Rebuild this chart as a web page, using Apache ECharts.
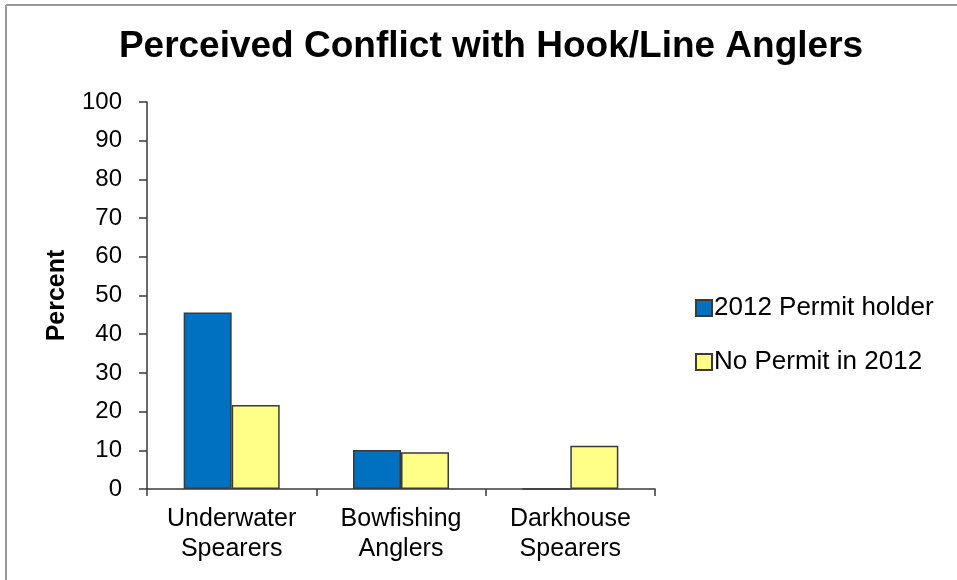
<!DOCTYPE html>
<html><head><meta charset="utf-8">
<script src="https://cdn.jsdelivr.net/npm/echarts@6/dist/echarts.min.js"></script>
<style>html,body{margin:0;padding:0;background:#fff}#c{width:957px;height:580px}</style>
</head><body><div id="c"></div>
<script>
const categories = ['Underwater\nSpearers', 'Bowfishing\nAnglers', 'Darkhouse\nSpearers'];
const permitHolder = [45.6, 10.1, 0];
const noPermit = [21.7, 9.5, 11.2];
const seriesNames = ['2012 Permit holder', 'No Permit in 2012'];
const yTicks = [0, 10, 20, 30, 40, 50, 60, 70, 80, 90, 100];

const chart = echarts.init(document.getElementById('c'));
const border = '#3a3a3a';
chart.setOption({
  animation: false,
  backgroundColor: '#fff',
  title: {
    text: 'Perceived Conflict with Hook/Line Anglers',
    left: 486, top: 23, textAlign: 'center',
    textStyle: { fontFamily: '"Liberation Sans", Arial, sans-serif', fontWeight: 'bold', fontSize: 37, color: '#000' }
  },
  graphic: [
    { type: 'line', shape: { x1: 6, y1: 5, x2: 957, y2: 5 }, style: { stroke: '#999', lineWidth: 2 } },
    { type: 'line', shape: { x1: 6, y1: 5, x2: 6, y2: 580 }, style: { stroke: '#999', lineWidth: 2 } }
  ],
  legend: {
    orient: 'vertical', left: 690, top: 290, itemGap: 28,
    itemWidth: 16, itemHeight: 16, icon: 'rect',
    textStyle: { fontFamily: '"Liberation Sans", Arial, sans-serif', fontSize: 26, color: '#000', padding: [0, 0, 0, -3] },
    data: seriesNames
  },
  grid: { left: 147, right: 302, top: 102, bottom: 91 },
  xAxis: {
    type: 'category', data: categories,
    axisLine: { lineStyle: { color: border, width: 1.5 } },
    axisTick: { show: true, length: 7, alignWithLabel: false, lineStyle: { color: border, width: 1.5 } },
    axisLabel: { margin: 15, fontFamily: '"Liberation Sans", Arial, sans-serif', fontSize: 25, lineHeight: 30, color: '#000', interval: 0 }
  },
  yAxis: {
    type: 'value', min: 0, max: 100, interval: 10,
    name: 'Percent', nameLocation: 'middle', nameGap: 77, nameRotate: 90,
    nameTextStyle: { fontFamily: '"Liberation Sans", Arial, sans-serif', fontWeight: 'bold', fontSize: 25, color: '#000' },
    splitLine: { show: false },
    axisLine: { show: true, lineStyle: { color: border, width: 1.5 } },
    axisTick: { show: true, length: 8, lineStyle: { color: border, width: 1.5 } },
    axisLabel: { margin: 25, fontFamily: '"Liberation Sans", Arial, sans-serif', fontSize: 24, color: '#000',
      formatter: v => yTicks.includes(v) ? String(v) : '' }
  },
  series: [
    { name: seriesNames[0], type: 'bar', data: permitHolder, barWidth: 48, barGap: '0%',
      itemStyle: { color: '#0070C0', borderColor: border, borderWidth: 1.5 } },
    { name: seriesNames[1], type: 'bar', data: noPermit, barWidth: 48,
      itemStyle: { color: '#FFFF88', borderColor: border, borderWidth: 1.5 } }
  ]
});
</script></body></html>
